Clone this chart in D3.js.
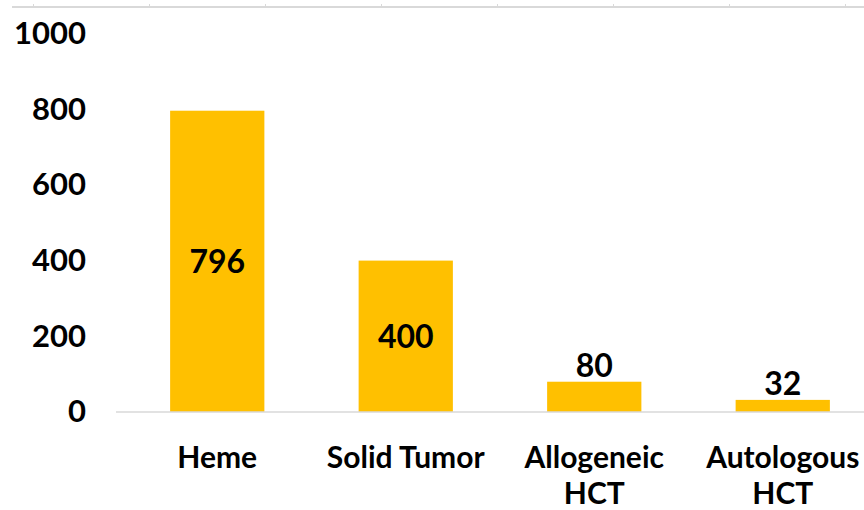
<!DOCTYPE html>
<html>
<head>
<meta charset="utf-8">
<script src="https://cdn.jsdelivr.net/npm/d3@7"></script>
<style>
  body { margin: 0; background: #fff; }
  text { font-family: Lato, "Open Sans", sans-serif; font-weight: 700; fill: #000; }
</style>
</head>
<body>
<svg width="864" height="510"></svg>
<script>
// chart values
const categories = [['Heme'], ['Solid Tumor'], ['Allogeneic', 'HCT'], ['Autologous', 'HCT']];
const counts = [796, 400, 80, 32];
const yTicks = [0, 200, 400, 600, 800, 1000];
// tick marks of the axis cut off at the top edge
const topTicks = [0, 1, 2, 3, 4, 5, 6, 7];

const svg = d3.select('svg');

const data = categories.map((c, i) => ({ key: c.join(' '), lines: c, value: counts[i] }));

const x = d3.scaleBand()
    .domain(data.map(d => d.key))
    .range([123, 877])
    .paddingInner(0.5)
    .paddingOuter(0.25);

const y = d3.scaleLinear()
    .domain([0, 1000])
    .range([412, 33.5]);

// the stray axis line at the very top
const xTop = d3.scaleLinear().domain([0, 7]).range([33, 845]);
const topAxis = svg.append('g')
    .attr('transform', 'translate(0,7)')
    .call(d3.axisTop(xTop).tickValues(topTicks).tickSize(3).tickFormat('').tickSizeOuter(0));
topAxis.select('.domain').attr('d', 'M12,0H864').attr('stroke', '#d9d9d9').attr('stroke-width', 2);
topAxis.selectAll('.tick line').attr('stroke', '#d9d9d9').attr('stroke-width', 1);

// y axis labels only
const yAxis = svg.append('g')
    .attr('transform', 'translate(86,0)')
    .call(d3.axisLeft(y).tickValues(yTicks).tickSize(0).tickPadding(0).tickFormat(d3.format('d')));
yAxis.select('.domain').remove();
yAxis.selectAll('text')
    .attr('font-size', 31)
    .attr('font-family', 'Lato, sans-serif')
    .attr('font-weight', 700)
    .attr('fill', '#000');

// bars
svg.selectAll('rect.bar')
    .data(data)
    .enter()
    .append('rect')
    .attr('class', 'bar')
    .attr('x', d => x(d.key))
    .attr('width', x.bandwidth())
    .attr('y', d => y(d.value))
    .attr('height', d => y(0) - y(d.value))
    .attr('fill', '#ffc000');

// baseline
svg.append('line')
    .attr('x1', 116).attr('x2', 864)
    .attr('y1', y(0)).attr('y2', y(0))
    .attr('stroke', '#d9d9d9')
    .attr('stroke-width', 1.5);

// value labels: centred in tall bars, above short ones
svg.selectAll('text.val')
    .data(data)
    .enter()
    .append('text')
    .attr('class', 'val')
    .attr('x', d => x(d.key) + x.bandwidth() / 2)
    .attr('y', d => d.value > 200 ? (y(d.value) + y(0)) / 2 : y(d.value) - 16)
    .attr('dy', '0.36em')
    .attr('text-anchor', 'middle')
    .attr('font-size', 32)
    .text(d => d.value);

// category labels
const cat = svg.selectAll('text.cat')
    .data(data)
    .enter()
    .append('text')
    .attr('class', 'cat')
    .attr('x', d => x(d.key) + x.bandwidth() / 2)
    .attr('y', 457)
    .attr('text-anchor', 'middle')
    .attr('font-size', 30);

cat.selectAll('tspan')
    .data(d => d.lines.map(l => ({ l, cx: x(d.key) + x.bandwidth() / 2 })))
    .enter()
    .append('tspan')
    .attr('x', t => t.cx)
    .attr('dy', (t, i) => i === 0 ? '0.36em' : 36)
    .text(t => t.l);
</script>
</body>
</html>
